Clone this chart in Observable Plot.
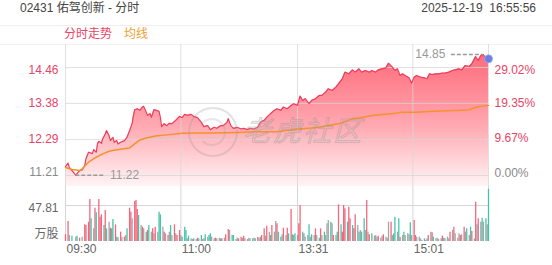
<!DOCTYPE html>
<html><head><meta charset="utf-8">
<script src="https://cdn.jsdelivr.net/npm/d3@7"></script>
<script src="https://cdn.jsdelivr.net/npm/@observablehq/plot@0.6"></script>
<style>
body{margin:0;background:#fff;font-family:"Liberation Sans",Arial,"Noto Sans CJK SC",sans-serif;}
#wrap{position:relative;width:552px;height:265px;overflow:hidden;background:#fff;}
.abs{position:absolute;white-space:nowrap;}
</style></head><body>
<svg width="0" height="0" style="position:absolute"><defs>
<linearGradient id="priceGrad" x1="0" y1="0" x2="0" y2="1">
<stop offset="0" stop-color="#ff5f70" stop-opacity="0.92"/>
<stop offset="0.55" stop-color="#ffaab2" stop-opacity="1"/>
<stop offset="1" stop-color="#fff4f5" stop-opacity="1"/>
</linearGradient></defs></svg>
<div id="wrap">
  <div class="abs" style="left:20px;top:0;font-size:12px;line-height:16px;color:#444">02431 佑驾创新 - 分时</div>
  <div class="abs" style="right:16px;top:0;font-size:12px;line-height:16px;color:#444">2025-12-19&nbsp;&nbsp;16:55:56</div>
  <div class="abs" style="left:0;top:25px;width:552px;height:18px;border-top:1px solid #f0f0f0;border-bottom:1px solid #f0f0f0"></div>
  <div class="abs" style="left:64px;top:26px;font-size:12px;line-height:17px;color:#e94366">分时走势</div>
  <div class="abs" style="left:124px;top:26px;font-size:12px;line-height:17px;color:#f0a030">均线</div>
  <div class="abs" id="pricePanel" style="left:0;top:44px"></div>
  <div class="abs" id="volPanel" style="left:0;top:186px"></div>
  <div class="abs" style="left:188px;top:107px;width:46px;height:46px;border:2px solid rgba(150,150,150,0.28);border-radius:50%"></div>
  <div class="abs" style="left:198px;top:118px;width:24px;height:24px;border:2px solid rgba(150,150,150,0.22);border-radius:50%;border-left-color:transparent"></div>
  <div class="abs" style="left:243px;top:116px;font-size:28px;line-height:32px;font-style:italic;letter-spacing:2px;color:rgba(200,200,200,0.22);-webkit-text-stroke:1px rgba(130,130,130,0.3)">老虎社区</div>
</div>
<script>
// ---- data ----
const prevClose = 11.21;
const priceTicks = [11.21, 12.29, 13.38, 14.46];
const pctLabels = ["0.00%", "9.67%", "19.35%", "29.02%"];
const timeTicks = [0, 90, 181, 271];
const timeLabels = ["09:30", "11:00", "13:31", "15:01"];
const sessionEnd = 330;
const volTicks = [47.81];
const volUnit = "万股";

const priceMin = [0,2,3,5,8,11,13,15,16,18,21,22,24,25,26,28,29,31,32,34,35,37,38,40,41,43,46,48,50,52,53,54,56,58,60,61,63,64,66,67,69,71,73,74,75,77,79,81,83,86,89,91,93,95,98,100,103,106,108,111,113,116,118,121,123,126,127,129,131,134,137,139,142,144,147,150,152,155,157,160,162,165,168,170,173,176,178,181,183,185,187,190,192,195,198,200,203,205,208,211,213,216,218,221,224,226,229,231,234,237,239,242,244,247,250,252,255,257,259,261,263,265,268,270,272,274,277,280,282,284,286,289,291,294,296,299,302,304,307,309,312,315,317,320,322,324,326,328,330];
const priceVal = [11.48,11.58,11.45,11.36,11.22,11.36,11.38,11.51,11.72,11.91,11.87,11.99,11.91,12.17,12.24,12.18,12.31,12.46,12.56,12.41,12.26,12.36,12.21,12.26,12.16,12.21,12.26,12.36,12.56,12.77,13.02,13.19,13.22,13.17,13.27,13.29,13.11,13.02,13.07,12.96,13.19,13.17,13.14,12.96,12.68,12.77,12.71,12.78,12.77,12.87,12.99,12.95,13.05,13.02,13.05,12.99,12.95,12.81,12.68,12.71,12.59,12.66,12.63,12.71,12.71,12.81,12.92,12.71,12.63,12.66,12.61,12.63,12.59,12.63,12.61,12.66,12.81,12.87,12.96,13.07,13.14,13.22,13.17,13.27,13.22,13.32,13.37,13.32,13.60,13.47,13.52,13.37,13.47,13.52,13.62,13.62,13.72,13.82,13.77,13.87,13.97,14.12,14.32,14.27,14.39,14.32,14.42,14.32,14.37,14.32,14.37,14.32,14.39,14.42,14.45,14.59,14.47,14.37,14.42,14.22,14.27,14.22,14.15,13.99,14.17,14.22,14.17,14.15,14.12,14.27,14.25,14.27,14.27,14.29,14.29,14.32,14.37,14.39,14.42,14.39,14.52,14.49,14.57,14.79,14.67,14.82,14.85,14.72,14.72];

const avgMin = [0,5,11,13,18,24,29,34,39,44,50,54,58,63,70,81,91,102,111,129,152,165,180,199,204,215,224,230,237,241,258,261,274,287,308,315,321,330];
const avgVal = [11.45,11.39,11.36,11.41,11.61,11.76,11.86,11.94,11.98,12.01,12.04,12.16,12.28,12.34,12.40,12.44,12.48,12.49,12.49,12.50,12.53,12.53,12.60,12.66,12.71,12.78,12.92,12.95,13.00,13.02,13.08,13.11,13.11,13.14,13.17,13.19,13.27,13.32];

const volMin = [0,2,3,5,8,9,11,13,15,16,18,19,20,22,23,24,26,27,28,30,31,32,34,35,36,37,39,40,41,43,44,46,47,48,50,51,52,54,55,56,57,59,60,61,63,64,65,67,68,69,70,72,73,74,76,77,78,80,81,82,83,85,86,87,89,90,91,93,94,95,96,98,99,100,102,103,104,106,107,108,109,
111,112,113,114,116,117,118,120,121,122,124,125,127,128,130,131,133,134,135,137,138,139,140,142,143,144,146,147,148,150,151,152,153,155,156,157,159,160,161,163,164,165,166,168,169,170,172,173,174,176,177,178,179,181,182,183,185,186,187,189,190,191,192,194,195,196,198,199,200,202,203,204,205,207,208,209,211,212,213,215,216,217,218,220,221,
222,224,225,226,228,229,230,231,233,234,235,236,237,239,241,242,243,244,246,247,248,250,251,252,254,255,256,257,259,260,261,263,264,265,267,268,269,270,272,273,274,276,277,278,280,281,282,283,285,286,287,289,290,291,293,294,295,296,298,299,300,302,303,304,306,307,308,309,311,312,313,315,316,317,319,320,321,322,324,325,326,328,329,330];
const volVal = [8.9,26.6,8.0,7.1,5.8,7.1,4.4,5.8,22.1,21.2,25.7,55.8,30.1,16.8,44.3,38.1,55.8,32.3,35.4,21.2,41.2,16.8,25.7,17.7,16.8,29.2,22.1,5.8,4.9,12.4,5.8,5.8,8.0,16.8,44.3,39.0,30.1,53.1,54.5,42.5,34.5,21.2,19.0,16.8,12.4,14.6,21.2,12.4,16.8,10.2,19.0,12.4,39.0,35.4,19.0,12.4,10.2,8.0,12.4,21.2,8.0,22.1,10.2,8.0,14.6,8.0,5.8,19.0,14.6,3.5,7.1,3.5,2.7,3.5,2.7,4.4,3.5,8.0,2.7,3.5,8.9,
5.8,8.0,10.2,5.8,3.5,4.4,3.5,4.4,3.5,3.5,4.4,8.9,15.9,14.6,8.0,8.0,2.7,4.4,3.5,5.8,4.4,7.1,3.5,2.7,4.4,3.5,3.5,4.4,3.5,5.3,4.4,5.8,8.0,16.8,7.1,20.4,12.4,8.0,21.2,12.4,26.6,23.5,12.4,5.8,8.9,17.7,8.0,17.7,10.2,42.5,8.9,8.0,10.2,8.0,23.5,47.8,12.4,10.2,5.8,8.0,22.1,5.8,8.9,8.0,16.8,8.0,4.4,16.8,8.0,12.4,8.0,23.5,27.9,25.7,23.5,8.0,8.0,12.4,48.7,22.1,12.4,47.8,43.4,25.7,45.6,
30.1,21.2,16.8,35.4,21.2,12.4,14.6,12.4,30.1,14.6,54.5,12.4,8.9,10.2,7.1,8.0,5.8,7.1,4.4,7.1,8.9,5.8,4.4,25.7,25.7,8.0,10.2,32.3,12.4,30.1,5.8,8.0,12.4,8.0,10.2,8.9,24.8,8.0,27.9,8.0,5.8,5.8,3.5,1.3,3.5,1.3,3.5,8.0,12.4,11.5,5.8,3.5,4.4,2.7,3.5,7.1,4.4,3.5,5.8,3.5,12.4,14.6,19.0,10.2,4.4,10.2,8.0,8.9,19.0,12.4,16.8,8.0,19.0,13.3,3.5,52.2,22.1,30.1,25.7,31.0,25.7,30.1,22.1,69.1];
const volDir = ("uufdfdufuuuudfuduuududfuddudfufufduufuuudfufdudfufufddfufufdfufuufdddfdffdfufdffd" +
  "fddffuffdufuufddffuufuffffffduffuufufduffuddfufududfdfuufdffdfdfufdufdfffdfufduduuudu" +
  "uduufdfddfufudfffuffufffufddfdufdfffdfuuffffdffufudffffufdffufufffufufdfdufufufdfdfd").split("");

const upColor = "#f2566f", downColor = "#33bf9f", flatColor = "#9c9c9c";
const dirColor = {u: upColor, d: downColor, f: flatColor};
const red = "#e94366", gray = "#8a8a8a", axisGray = "#666";

// ---- build ----
const price = priceMin.map((m, i) => ({m, p: priceVal[i]}));
const avg = avgMin.map((m, i) => ({m, p: avgVal[i]}));
const vol = volMin.map((m, i) => ({m, v: volVal[i], dir: volDir[i]}));
console.log(priceMin.length, priceVal.length, avgMin.length, avgVal.length, volMin.length, volVal.length, volDir.length);

const W = 552;
const yDomain = [10.879, 15.152];
const gridX = [...timeTicks, sessionEnd];
const font = '"Liberation Sans", Arial, "Noto Sans CJK SC", sans-serif';
const maxD = price[d3.maxIndex(price, d => d.p)];
const minD = price[d3.minIndex(price, d => d.p)];
const last = price[price.length - 1];
const tickFill = d => d > prevClose ? red : gray;
const n = priceTicks.length;
const labelShift = [-3, 0, 0, 2.5];
const pctShift = [-2.5, -1, 0, 3];

const priceMarks = [
  Plot.areaY(price, {x: "m", y1: yDomain[0], y2: "p", fill: "url(#priceGrad)"}),
  Plot.ruleY(priceTicks, {stroke: "#d6d6d6", strokeOpacity: 0.75}),
  Plot.ruleX(gridX, {stroke: "#d6d6d6", strokeOpacity: 0.75}),
  Plot.line(price, {x: "m", y: "p", stroke: "#ef3d5b", strokeWidth: 1.2}),
  Plot.line(avg, {x: "m", y: "p", stroke: "#f5922b", strokeWidth: 1.5}),
  Plot.ruleY([maxD], {y: "p", x1: d => d.m - 25, x2: d => d.m, stroke: "#9a9a9a", strokeDasharray: "4,2", strokeWidth: 1.5}),
  Plot.text([maxD], {x: d => d.m - 25, y: "p", text: d => d.p.toFixed(2), dx: -6, textAnchor: "end", fill: "#999", fontSize: 12}),
  Plot.ruleY([minD], {y: "p", x1: d => d.m, x2: d => d.m + 22, stroke: "#9a9a9a", strokeDasharray: "4,2", strokeWidth: 1.5}),
  Plot.text([minD], {x: d => d.m + 22, y: "p", text: d => d.p.toFixed(2), dx: 6, textAnchor: "start", fill: "#999", fontSize: 12}),
  Plot.dot([last], {x: "m", y: "p", r: 4, fill: "#6b7fe3", stroke: "#9aa8ef", strokeWidth: 1})
];
priceTicks.forEach((t, i) => {
  priceMarks.push(Plot.text([t], {y: d => d, frameAnchor: "left", dx: -7, dy: labelShift[i], textAnchor: "end", text: d => d.toFixed(2), fill: tickFill(t), fontSize: 12}));
  priceMarks.push(Plot.text([t], {y: d => d, frameAnchor: "right", dx: 6, dy: pctShift[i], textAnchor: "start", text: () => pctLabels[i], fill: tickFill(t), fontSize: 12}));
});

const pricePlot = Plot.plot({
  width: W, height: 142, marginLeft: 65, marginRight: 64, marginTop: 0, marginBottom: 0,
  x: {domain: [0, sessionEnd], axis: null},
  y: {domain: yDomain, axis: null},
  style: {fontFamily: font, fontSize: "12px", background: "transparent"},
  marks: priceMarks
});
document.getElementById("pricePanel").appendChild(pricePlot);

const volPlot = Plot.plot({
  width: W, height: 79, marginLeft: 65, marginRight: 64, marginTop: 0, marginBottom: 24,
  x: {domain: [0, sessionEnd], axis: null},
  y: {domain: [0, 73.04], axis: null},
  style: {fontFamily: font, fontSize: "12px", background: "transparent"},
  marks: [
    Plot.ruleY(volTicks, {stroke: "#d6d6d6"}),
    Plot.ruleX(gridX, {stroke: "#d6d6d6"}),
    Plot.ruleX(vol, {x: "m", y1: 0, y2: "v", stroke: d => dirColor[d.dir], strokeWidth: 1.3, strokeOpacity: 0.9}),
    Plot.text(volTicks, {y: d => d, frameAnchor: "left", dx: -7, dy: 2.5, textAnchor: "end", text: d => d.toFixed(2), fill: axisGray, fontSize: 12}),
    Plot.text([volUnit], {frameAnchor: "bottom-left", dx: -7, dy: -4, textAnchor: "end", text: d => d, fill: axisGray, fontSize: 12}),
    Plot.text(timeTicks, {x: d => d, frameAnchor: "bottom", dy: 11, dx: 1, textAnchor: "start", text: (d, i) => timeLabels[i], fill: axisGray, fontSize: 12})
  ]
});
document.getElementById("volPanel").appendChild(volPlot);
</script>
</body></html>
